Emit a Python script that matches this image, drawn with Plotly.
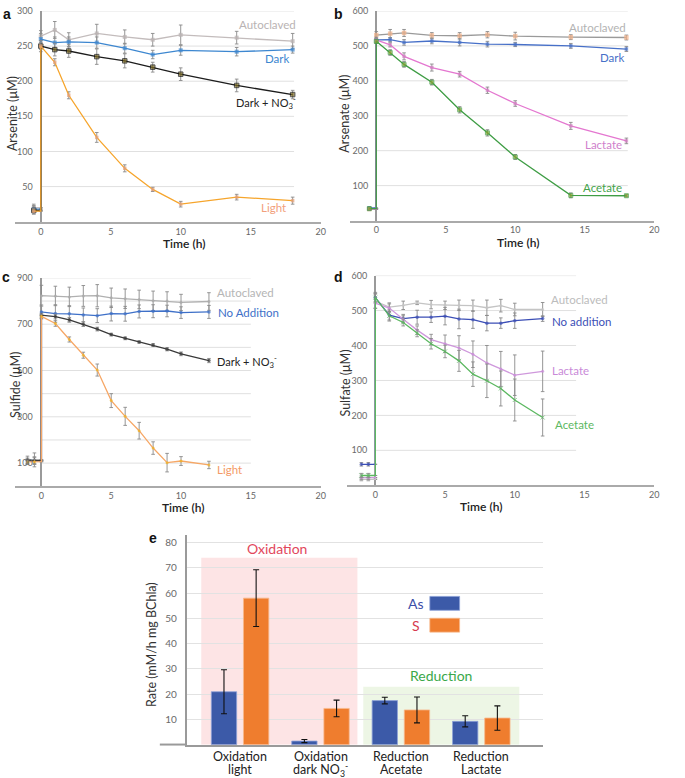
import math
import plotly.graph_objects as go

W, H = 685, 778
def px(x): return x / W
def py(y): return 1 - y / H
NAN = float("nan")

# ---------------- Panel a : Arsenite ----------------
a_time = [0, 1, 2, 4, 6, 8, 10, 14, 18]
a_pre_time = [-0.5]
a_auto = [264, 273, 259, 268, 263, 259, 266, 262, 257]
a_auto_err = [8, 12, 10, 13, 10, 9, 14, 9, 11]
a_auto_pre, a_auto_pre_err = [20], [5]
a_dark = [260, 255, 256, 255, 247, 238, 244, 242, 245]
a_dark_err = [8, 8, 7, 8, 7, 6, 7, 6, 5]
a_dark_pre, a_dark_pre_err = [18], [5]
a_no3 = [250, 245, 243, 235, 229, 220, 210, 194, 181]
a_no3_err = [8, 9, 9, 11, 10, 7, 9, 9, 6]
a_no3_pre, a_no3_pre_err = [16], [5]
a_light = [250, 227, 180, 120, 76, 46, 25, 35, 30]
a_light_err = [5, 5, 5, 7, 5, 3, 4, 4, 5]
a_light_pre, a_light_pre_err = [15], [4]
a_yticks = [50, 100, 150, 200, 250, 300]

# ---------------- Panel b : Arsenate ----------------
b_time = [0, 1, 2, 4, 6, 8, 10, 14, 18]
b_pre_time = [-0.5]
b_auto = [531, 535, 537, 530, 529, 532, 528, 525, 524]
b_auto_err = [10, 12, 10, 8, 9, 9, 11, 7, 7]
b_auto_pre, b_auto_pre_err = [33], [3]
b_dark = [517, 518, 510, 514, 510, 505, 504, 500, 491]
b_dark_err = [8, 6, 8, 8, 10, 8, 6, 7, 7]
b_dark_pre, b_dark_pre_err = [36], [3]
b_lac = [517, 503, 470, 438, 419, 373, 335, 271, 228]
b_lac_err = [6, 6, 10, 10, 8, 9, 8, 10, 8]
b_lac_pre, b_lac_pre_err = [33], [3]
b_ace = [513, 481, 447, 396, 317, 251, 182, 72, 71]
b_ace_err = [6, 8, 8, 8, 9, 9, 7, 7, 3]
b_ace_pre, b_ace_pre_err = [34], [3]
b_yticks = [100, 200, 300, 400, 500, 600]

# ---------------- Panel c : Sulfide ----------------
c_time = [0, 1, 2, 3, 4, 5, 6, 7, 8, 9, 10, 12]
c_pre_time = [-1, -0.5]
c_auto = [823, 822, 818, 822, 823, 814, 810, 807, 801, 800, 794, 798]
c_auto_err = [45, 42, 42, 45, 48, 42, 42, 40, 42, 40, 35, 38]
c_auto_pre, c_auto_pre_err = [112, 114], [18, 30]
c_dark = [753, 746, 745, 740, 737, 746, 745, 755, 756, 757, 750, 753]
c_dark_err = [30, 38, 35, 30, 30, 32, 32, 28, 28, 25, 25, 28]
c_dark_pre, c_dark_pre_err = [108, 110], [10, 15]
c_no3 = [739, 733, 719, 700, 679, 655, 639, 623, 610, 592, 572, 543]
c_no3_err = [8, 10, 10, 10, 8, 6, 6, 5, 6, 7, 8, 9]
c_no3_pre, c_no3_pre_err = [112, 112], [10, 15]
c_light = [734, 703, 634, 566, 502, 370, 302, 240, 165, 102, 109, 92]
c_light_err = [8, 12, 11, 13, 26, 30, 39, 36, 27, 40, 19, 16]
c_light_pre, c_light_pre_err = [105, 106], [8, 10]
c_yticks = [100, 300, 500, 700, 900]
c_ygrid = [100, 200, 300, 400, 500, 600, 700, 800, 900]

# ---------------- Panel d : Sulfate ----------------
d_time = [0, 1, 2, 3, 4, 5, 6, 7, 8, 9, 10, 12]
d_pre_time = [-1, -0.5]
d_auto = [527, 510, 515, 522, 517, 515, 515, 514, 508, 514, 503, 503]
d_auto_err = [20, 12, 12, 5, 12, 12, 15, 16, 22, 18, 18, 20]
d_auto_pre, d_auto_pre_err = [17, 17], [4, 4]
d_dark = [537, 487, 477, 481, 481, 484, 476, 474, 464, 464, 471, 477]
d_dark_err = [15, 17, 12, 20, 15, 25, 28, 25, 22, 15, 22, 8]
d_dark_pre, d_dark_pre_err = [60, 60], [5, 5]
d_lac = [521, 507, 475, 444, 417, 405, 393, 375, 350, 333, 315, 326]
d_lac_err = [15, 12, 10, 12, 15, 25, 35, 38, 50, 50, 58, 58]
d_lac_pre, d_lac_pre_err = [22, 22], [5, 5]
d_ace = [537, 485, 466, 435, 405, 383, 356, 318, 299, 277, 244, 194]
d_ace_err = [12, 12, 10, 10, 15, 18, 30, 35, 48, 50, 60, 53]
d_ace_pre, d_ace_pre_err = [28, 28], [6, 6]
d_yticks = [100, 200, 300, 400, 500, 600]

# ---------------- Panel e : Rates ----------------
e_cats = ["Oxidation<br>light", "Oxidation<br>dark NO<sub>3</sub><sup>-</sup>",
          "Reduction<br>Acetate", "Reduction<br>Lactate"]
e_as = [21.0, 1.5, 17.5, 9.3]
e_as_err = [8.7, 0.6, 1.3, 2.2]
e_s = [58.0, 14.4, 13.8, 10.6]
e_s_err = [11.2, 3.3, 5.1, 4.8]
e_yticks = [10, 20, 30, 40, 50, 60, 70, 80]

FONT = "Lato"
fig = go.Figure()


def series(ax, t, v, e, pre_t, pre_v, pre_e, lcolor, mcolor, size, symbol,
           mline=None, lw=1.3):
    x = list(pre_t) + [0] + list(t)
    y = list(pre_v) + [pre_v[-1]] + list(v)
    err = list(pre_e) + [NAN] + list(e)
    n_pre = len(pre_t)
    sizes = [size] * n_pre + [0] + [size] * len(t)
    mlw = [1 if mline else 0] * n_pre + [0] + [1 if mline else 0] * len(t)
    fig.add_trace(go.Scatter(
        x=x, y=y, mode="lines+markers", xaxis="x" + ax, yaxis="y" + ax,
        line=dict(color=lcolor, width=lw),
        marker=dict(color=mcolor, size=sizes, symbol=symbol,
                    line=dict(color=mline or mcolor, width=mlw)),
        error_y=dict(type="data", array=err, color="#8a8a8a",
                     thickness=0.9, width=1.8),
        cliponaxis=False, showlegend=False, hoverinfo="skip"))


# panel a
series("", a_time, a_auto, a_auto_err, a_pre_time, a_auto_pre, a_auto_pre_err,
       "#c3bcbc", "#b8b0b0", 4, "square")
series("", a_time, a_dark, a_dark_err, a_pre_time, a_dark_pre, a_dark_pre_err,
       "#3d87d0", "#3d87d0", 4, "square")
series("", a_time, a_no3, a_no3_err, a_pre_time, a_no3_pre, a_no3_pre_err,
       "#1c1c1c", "#7d6c24", 4.5, "square", mline="#111")
series("", a_time, a_light, a_light_err, a_pre_time, a_light_pre, a_light_pre_err,
       "#f6a52c", "#e3a07a", 3.5, "square")

# panel b
series("2", b_time, b_auto, b_auto_err, b_pre_time, b_auto_pre, b_auto_pre_err,
       "#9a9a9a", "#f2b187", 4.5, "square")
series("2", b_time, b_dark, b_dark_err, b_pre_time, b_dark_pre, b_dark_pre_err,
       "#4770c8", "#4770c8", 3.5, "square")
series("2", b_time, b_lac, b_lac_err, b_pre_time, b_lac_pre, b_lac_pre_err,
       "#e477d0", "#d080c0", 3.5, "square")
series("2", b_time, b_ace, b_ace_err, b_pre_time, b_ace_pre, b_ace_pre_err,
       "#3f9d45", "#8aa430", 4, "square", mline="#3f9d45")

# panel c
series("3", c_time, c_auto, c_auto_err, c_pre_time, c_auto_pre, c_auto_pre_err,
       "#b0b0b0", "#a8a8a8", 3, "circle")
series("3", c_time, c_dark, c_dark_err, c_pre_time, c_dark_pre, c_dark_pre_err,
       "#3e70c8", "#3e70c8", 3.5, "circle")
series("3", c_time, c_no3, c_no3_err, c_pre_time, c_no3_pre, c_no3_pre_err,
       "#3a3a3a", "#3a3a3a", 3.5, "circle")
series("3", c_time, c_light, c_light_err, c_pre_time, c_light_pre, c_light_pre_err,
       "#f6a766", "#f0b020", 3, "circle")

# panel d
series("4", d_time, d_auto, d_auto_err, d_pre_time, d_auto_pre, d_auto_pre_err,
       "#c4c4c4", "#c4c4c4", 3, "circle")
series("4", d_time, d_dark, d_dark_err, d_pre_time, d_dark_pre, d_dark_pre_err,
       "#3c4fb6", "#3c4fb6", 3.5, "circle")
series("4", d_time, d_lac, d_lac_err, d_pre_time, d_lac_pre, d_lac_pre_err,
       "#cf98dc", "#c98ad8", 3, "circle")
series("4", d_time, d_ace, d_ace_err, d_pre_time, d_ace_pre, d_ace_pre_err,
       "#5cb861", "#5cb861", 4, "x-thin", mline="#5cb861")

# panel e
e_pos = list(range(len(e_cats)))
fig.add_trace(go.Bar(
    x=e_pos, y=e_as, xaxis="x5", yaxis="y5", width=0.315, offset=-0.36,
    marker=dict(color="#3c5aa8", line=dict(color="#8ea2d8", width=0.8)),
    error_y=dict(type="data", array=e_as_err, color="#111", thickness=1.1, width=3),
    showlegend=False, hoverinfo="skip"))
fig.add_trace(go.Bar(
    x=e_pos, y=e_s, xaxis="x5", yaxis="y5", width=0.315, offset=0.04,
    marker=dict(color="#ef7d2e", line=dict(color="#f7b98c", width=0.8)),
    error_y=dict(type="data", array=e_s_err, color="#111", thickness=1.1, width=3),
    showlegend=False, hoverinfo="skip"))

tickfont = dict(family=FONT, size=9, color="#6a6a6a")


def xax(dom, rng, yname):
    return dict(domain=dom, range=rng, anchor=yname, showgrid=False, zeroline=True,
                zerolinecolor="#9a9a9a", zerolinewidth=2, showline=True,
                linecolor="#aaaaaa", linewidth=2, tickvals=[0, 5, 10, 15, 20],
                ticks="", tickfont=dict(family=FONT, size=9, color="#666"),
                fixedrange=True)


def yax(dom, rng, tv, pos):
    return dict(domain=dom, range=rng, showgrid=False, zeroline=False,
                showline=False, tickvals=tv, ticks="", anchor="free",
                position=pos, ticklabelstandoff=2,
                tickfont=tickfont, fixedrange=True)


fig.update_layout(
    width=W, height=H, margin=dict(l=0, r=0, t=0, b=0),
    paper_bgcolor="white", plot_bgcolor="white",
    font=dict(family=FONT, color="#333"),
    xaxis=xax([px(15), px(323)], [-1.85, 20], "y"),
    yaxis=yax([py(217.4), py(5)], [0, 300], a_yticks, px(35)),
    xaxis2=xax([px(353), px(659)], [-1.86, 20], "y2"),
    yaxis2=yax([py(216.2), py(5)], [0, 600], b_yticks, px(373)),
    xaxis3=xax([px(15), px(323)], [-1.9, 20], "y3"),
    yaxis3=yax([py(484), py(274)], [0, 900], c_yticks, px(35)),
    xaxis4=xax([px(350), px(659)], [-2.0, 20], "y4"),
    yaxis4=yax([py(483), py(271.7)], [0, 600], d_yticks, px(372)),
    xaxis5=dict(domain=[px(188), px(547)], range=[-0.667, 3.765], anchor="y5",
                showgrid=False, zeroline=False, showline=True, linecolor="#9a9a9a",
                linewidth=2, tickvals=e_pos, ticktext=["" for _ in e_cats], ticks="",
                fixedrange=True),
    yaxis5=dict(domain=[py(744.6), py(533)], range=[0, 83], anchor="x5",
                showgrid=True, gridcolor="#e2e2e2", gridwidth=1, zeroline=False,
                showline=True, linecolor="#9a9a9a", linewidth=1.5,
                tickvals=e_yticks, ticks="", ticklabelstandoff=6,
                tickfont=dict(family=FONT, size=10, color="#6a6a6a"), fixedrange=True),
    barmode="overlay",
)

shapes = []
# gridlines for a-d (start at the x = 0 line)
for ax, vals, xend in [("", a_yticks, 18.1), ("2", b_yticks, 18.1),
                       ("3", c_ygrid, 15.0), ("4", d_yticks, 14.4)]:
    for v in vals:
        shapes.append(dict(type="line", xref="x" + ax, yref="y" + ax, x0=0, x1=xend,
                           y0=v, y1=v, line=dict(color="#e0e0e0", width=1),
                           layer="below"))
# shaded groups in e
shapes.append(dict(type="rect", xref="x5", yref="y5", x0=-0.485, x1=1.457, y0=0, y1=74,
                   fillcolor="rgba(251,205,208,0.55)", line=dict(width=0), layer="below"))
shapes.append(dict(type="rect", xref="x5", yref="y5", x0=1.53, x1=3.47, y0=0, y1=23,
                   fillcolor="rgba(225,240,212,0.6)", line=dict(width=0), layer="below"))
# x-axis extension left of the y axis in e
shapes.append(dict(type="line", xref="paper", yref="paper", x0=px(161), x1=px(188),
                   y0=py(744.3), y1=py(744.3), line=dict(color="#9a9a9a", width=2)))
# legend swatches in e
shapes.append(dict(type="rect", xref="paper", yref="paper", x0=px(433), x1=px(463),
                   y0=py(609), y1=py(595), fillcolor="#3c5aa8",
                   line=dict(color="#8ea2d8", width=0.8)))
shapes.append(dict(type="rect", xref="paper", yref="paper", x0=px(433), x1=px(463),
                   y0=py(631), y1=py(617), fillcolor="#ef7d2e",
                   line=dict(color="#f7b98c", width=0.8)))
fig.update_layout(shapes=shapes)

ann = []
def text(x, y, s, size=11.5, color="#333", xanchor="center", angle=0, family=FONT,
         weight=None, xref="paper"):
    f = dict(family=family, size=size, color=color)
    if weight:
        f["weight"] = weight
    ann.append(dict(x=px(x) if xref == "paper" else x, y=py(y), xref=xref, yref="paper",
                    text=s, showarrow=False, xanchor=xanchor, yanchor="middle",
                    textangle=angle, font=f))

NO3 = "NO<sub>3</sub><sup>-</sup>"
# panel letters
for (x, y, s) in [(7, 8, "a"), (341, 8, "b"), (6, 273, "c"), (341, 273, "d"), (154, 536, "e")]:
    text(x, y, s, size=14, color="#111", family="Liberation Sans", weight="bold")
# axis titles
text(12, 108, "Arsenite (μM)", size=12.5, angle=-90)
text(347, 108, "Arsenate (μM)", size=12.5, angle=-90)
text(15, 382, "Sulfide (μM)", size=12.5, angle=-90)
text(348, 380, "Sulfate (μM)", size=12.5, angle=-90)
text(152, 643, "Rate (mM/h mg BChla)", size=12.5, angle=-90)
for (x, y) in [(185, 239), (522, 238), (184, 505), (485, 504)]:
    text(x, y, "Time (h)", size=12, color="#222", weight=600)
# series labels a
text(269, 19, "Autoclaved", color="#b9b3b3")
text(279, 53, "Dark", color="#3d87d0")
text(268, 97, "Dark + " + NO3, color="#222", size=11)
text(276, 203, "Light", color="#f2a07c")
# b
text(602, 22, "Autoclaved", color="#b3b3b3")
text(617, 52, "Dark", color="#4770c8")
text(608, 140, "Lactate", color="#cf7fcc")
text(607, 183, "Acetate", color="#44a34a")
# c
text(217, 289, "Autoclaved", color="#b5b5b5", xanchor="left")
text(218, 309, "No Addition", color="#3e70c8", xanchor="left")
text(217, 358, "Dark + " + NO3, color="#222", xanchor="left", size=11)
text(217, 467, "Light", color="#f49a66", xanchor="left")
# d
text(553, 296, "Autoclaved", color="#bcbcbc", xanchor="left")
text(554, 318, "No addition", color="#3c4fb6", xanchor="left")
text(554, 367, "Lactate", color="#c98ad8", xanchor="left")
text(557, 422, "Acetate", color="#5cb861", xanchor="left")
# e
text(279, 547, "Oxidation", size=14, color="#e2475c")
text(444, 675, "Reduction", size=14, color="#3aa84a")
text(419, 602, "As", size=14, color="#3b4ea8")
text(419, 624, "S", size=14, color="#d63a4e")
# e category labels, one annotation per line
for pos, cat in zip(e_pos, e_cats):
    lines = cat.split("<br>")
    for i, ln in enumerate(lines):
        text(pos, 756.5 + 13 * i, ln, size=12.5, color="#222", xref="x5")
fig.update_layout(annotations=ann)

fig.write_html("out.html", config={"displayModeBar": False},
               post_script="document.body.style.margin='0';"
                           "document.body.style.padding='0';"
                           "document.body.style.overflow='hidden';")
